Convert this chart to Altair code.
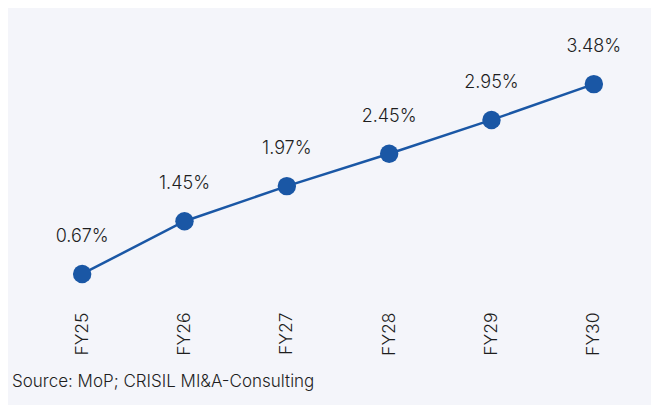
import altair as alt
import pandas as pd

years = ["FY25", "FY26", "FY27", "FY28", "FY29", "FY30"]
values = [0.67, 1.45, 1.97, 2.45, 2.95, 3.48]
labels = ["0.67%", "1.45%", "1.97%", "2.45%", "2.95%", "3.48%"]

df = pd.DataFrame({"year": years, "value": values, "label": labels})

FONT = "Inter"
BLUE = "#1a57a5"

x = alt.X("year:N", sort=years, title=None,
          scale=alt.Scale(type="point", padding=0.5),
          axis=alt.Axis(labelAngle=270, labelFontSize=17.5, labelColor="#1e1e1e",
                        labelFont=FONT, labelFontWeight=300, labelPadding=7, ticks=False,
                        domain=False, grid=False, labelBaseline="middle"))
y = alt.Y("value:Q", title=None, scale=alt.Scale(domain=[0.21, 4.0], zero=False, nice=False),
          axis=None)

base = alt.Chart(df).encode(x=x, y=y)

line = base.mark_line(color=BLUE, strokeWidth=2.5)
pts = base.mark_circle(color=BLUE, size=340, opacity=1)
txt = base.mark_text(dy=-37, fontSize=18, font=FONT, fontWeight=300,
                     color="#1e1e1e").encode(text="label:N")

chart = (line + pts + txt).properties(
    width=614, height=256,
    background="#f4f5fa",
    autosize=alt.AutoSizeParams(type="none"),
    padding={"left": 23, "right": 6, "top": 41, "bottom": 100},
    title=alt.TitleParams("Source: MoP; CRISIL MI&A-Consulting", orient="bottom",
                          anchor="start", fontSize=17, font=FONT, fontWeight=300,
                          color="#1e1e1e", dx=-19, offset=19),
).configure_view(stroke=None)

chart.save("out.html", embed_options={"renderer": "svg", "actions": False})
